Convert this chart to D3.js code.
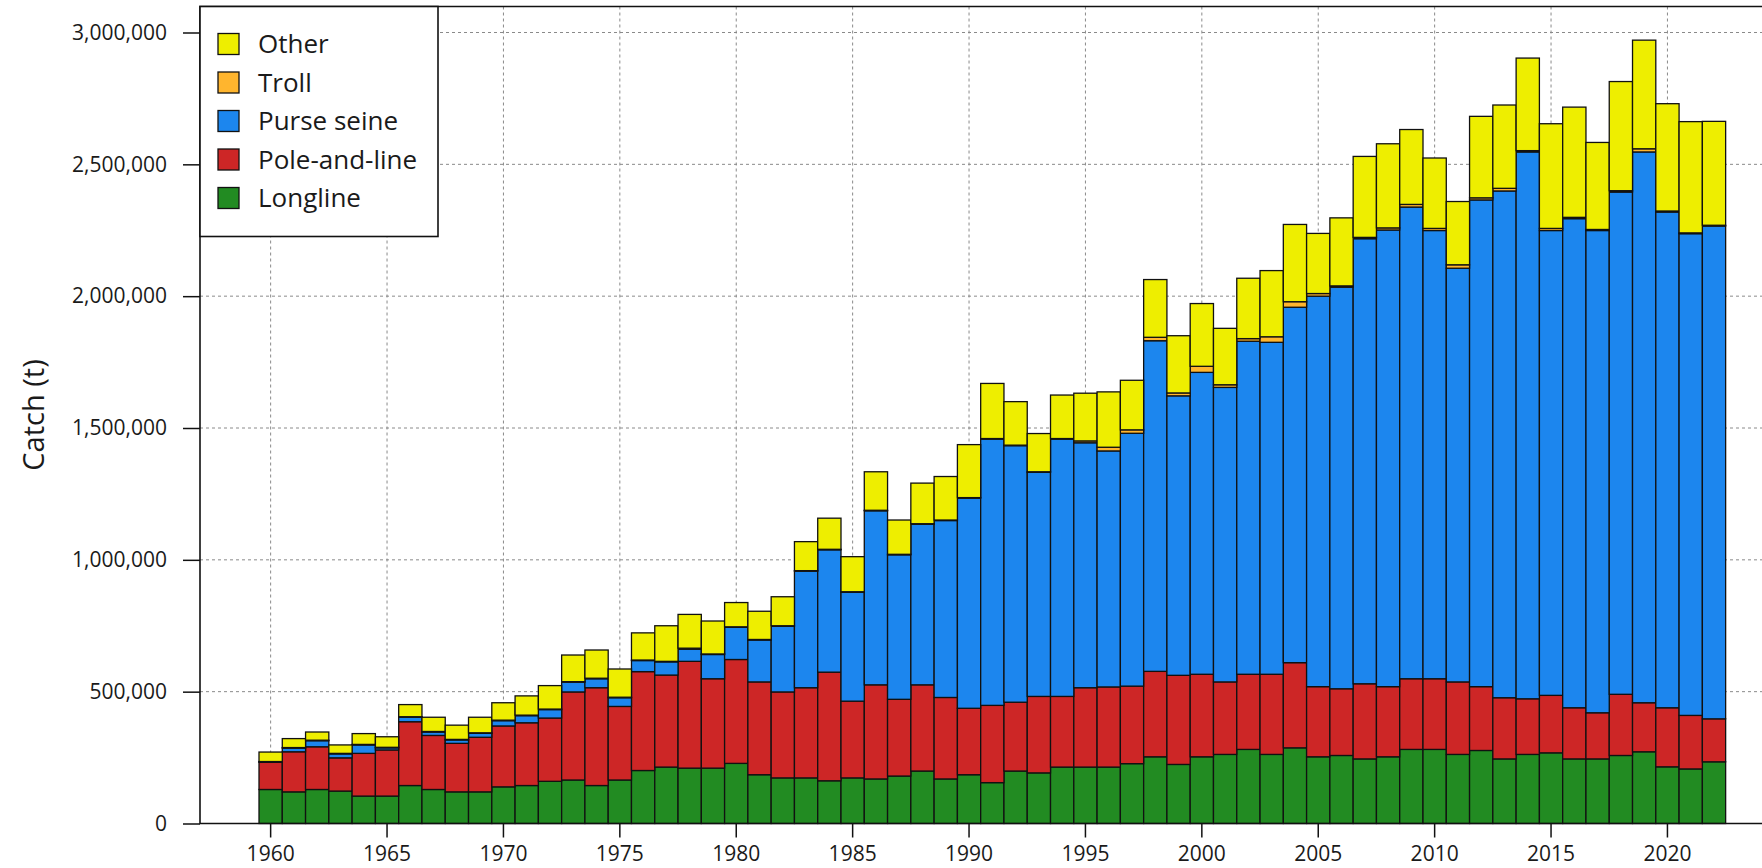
<!DOCTYPE html>
<html>
<head>
<meta charset="utf-8" />
<title>Catch by gear</title>
<style>
body { margin: 0; background: #fff; }
#graph {
    width: 1762px;
    height: 868px;
}
text { font-family: "Open Sans", Lato, sans-serif; fill: #1a1a1a; }
.grid line {
    stroke: #8a8a8a;
    stroke-dasharray: 3 3;
    stroke-width: 1;
}
.bar { stroke: #111; stroke-width: 1.3; }
.axis line { stroke: #111; stroke-width: 1.5; }
</style>
</head>
<body>
<div id="graph"></div>

<script src="https://cdnjs.cloudflare.com/ajax/libs/d3/7.8.5/d3.min.js"></script>
<script>
// catch in thousand tonnes
var years = [1960,1961,1962,1963,1964,1965,1966,1967,1968,1969,
    1970,1971,1972,1973,1974,1975,1976,1977,1978,1979,
    1980,1981,1982,1983,1984,1985,1986,1987,1988,1989,
    1990,1991,1992,1993,1994,1995,1996,1997,1998,1999,
    2000,2001,2002,2003,2004,2005,2006,2007,2008,2009,
    2010,2011,2012,2013,2014,2015,2016,2017,2018,2019,
    2020,2021,2022]

var longline = [129,120,129,123,104,104,144,129,120,120,
    139,144,160,165,144,165,201,214,210,210,
    228,185,173,173,162,173,169,180,199,169,
    185,155,199,192,214,214,214,227,253,224,
    253,262,281,262,287,253,258,245,253,281,
    281,262,277,245,262,268,245,245,258,272,
    215,207,234]

var poleAndLine = [103,152,162,126,162,175,242,205,184,207,
    231,238,240,334,371,279,375,349,405,339,
    394,352,326,342,412,291,357,291,327,309,
    252,293,261,290,268,301,304,294,324,338,
    313,275,285,304,323,266,253,285,266,268,
    268,275,242,232,211,218,194,175,232,186,
    224,203,163]

var purseSeine = [2,14,23,15,32,8,17,13,13,15,
    20,27,32,37,34,33,42,50,46,92,
    122,159,249,442,464,413,660,548,609,671,
    797,1010,973,850,976,929,895,959,1254,1060,
    1145,1117,1263,1259,1348,1481,1523,1688,1732,1789,
    1700,1569,1846,1922,2074,1763,1855,1829,1905,2089,
    1880,1827,1869]

var troll = [1,2,2,2,2,2,2,2,2,2,
    2,2,2,2,2,2,2,2,4,2,
    2,2,2,2,2,2,2,2,2,2,
    2,2,2,2,2,7,14,13,13,11,
    23,10,10,21,21,10,5,5,8,10,
    8,13,8,10,5,8,5,4,5,12,
    4,3,3]

var other = [36,34,31,32,41,40,46,54,54,59,
    66,73,89,101,107,107,103,135,128,125,
    92,107,110,110,118,133,146,130,154,165,
    201,209,165,145,165,181,210,188,219,217,
    238,214,229,251,293,228,258,307,319,284,
    267,240,309,316,351,397,418,330,414,412,
    407,422,394]

var gears = ["Longline", "Pole-and-line", "Purse seine", "Troll", "Other"]
var gearColors = ["#228B22", "#CD2626", "#1C86EE", "#FFB52E", "#EEEE00"]
var yTicks = [0, 500000, 1000000, 1500000, 2000000, 2500000, 3000000]
var xTickYears = [1960,1965,1970,1975,1980,1985,1990,1995,2000,2005,2010,2015,2020]

!(function(){
    "use strict"

    var width, height
    var margin
    var svg = d3.select("#graph").append("svg")
    var gridLayer = svg.append("g").classed("grid", true)
    var chartLayer = svg.append("g").classed("chartLayer", true)
    var axisLayer = svg.append("g").classed("axisLayer", true)
    var legendLayer = svg.append("g").classed("legend", true)

    var xScale = d3.scaleBand()
    var yScale = d3.scaleLinear()
    var color = d3.scaleOrdinal().domain(gears).range(gearColors)

    var series = [longline, poleAndLine, purseSeine, troll, other]
    var data = years.map(function(y, i){
        var row = {year: y}
        gears.forEach(function(g, k){ row[g] = series[k][i] * 1000 })
        return row
    })

    main(data)

    function main(data) {
        setSize()
        drawGrid()
        drawChart(data)
        drawAxis()
        drawLegend()
    }

    function setSize() {
        width = 1762
        height = 868
        margin = {top: 6.5, left: 200, bottom: 44.5, right: -30}

        svg.attr("width", width).attr("height", height)

        xScale.domain(years)
            .range([259, 259 + years.length * 23.28])
            .paddingInner(0).paddingOuter(0)

        yScale.domain([0, 3000000]).range([height - margin.bottom, 32.5])
    }

    function drawGrid() {
        gridLayer.selectAll(".hgrid").data(yTicks.slice(1)).enter()
            .append("line").classed("hgrid", true)
            .attr("x1", margin.left).attr("x2", width - margin.right)
            .attr("y1", function(d){ return yScale(d) })
            .attr("y2", function(d){ return yScale(d) })

        gridLayer.selectAll(".vgrid").data(xTickYears).enter()
            .append("line").classed("vgrid", true)
            .attr("x1", function(d){ return xScale(d) + xScale.bandwidth()/2 })
            .attr("x2", function(d){ return xScale(d) + xScale.bandwidth()/2 })
            .attr("y1", margin.top).attr("y2", height - margin.bottom)
    }

    function drawChart(data) {
        var stacked = d3.stack().keys(gears)(data)

        var layer = chartLayer.selectAll(".layer").data(stacked)
            .enter().append("g").classed("layer", true)
            .attr("fill", function(d){ return color(d.key) })

        layer.selectAll(".bar").data(function(d){ return d })
            .enter().append("rect").classed("bar", true)
            .attr("x", function(d){ return xScale(d.data.year) })
            .attr("width", xScale.bandwidth())
            .attr("y", function(d){ return yScale(d[1]) })
            .attr("height", function(d){ return yScale(d[0]) - yScale(d[1]) })
    }

    function drawAxis() {
        var bottom = height - margin.bottom

        // box: left, top and bottom run off to the right edge
        axisLayer.append("path")
            .attr("d", "M" + (width - margin.right) + "," + margin.top +
                "H" + margin.left + "V" + bottom + "H" + (width - margin.right))
            .attr("fill", "none").attr("stroke", "#111").attr("stroke-width", 1.6)

        var yAxis = d3.axisLeft(yScale)
            .tickValues(yTicks)
            .tickSize(17)
            .tickPadding(16)
            .tickFormat(d3.format(","))

        var gy = axisLayer.append("g")
            .attr("class", "axis y")
            .attr("transform", "translate(" + [margin.left, 0] + ")")
            .call(yAxis)
        gy.select(".domain").remove()
        gy.selectAll("text").style("font-size", "21px").attr("fill", "#1a1a1a")

        var xAxis = d3.axisBottom(xScale)
            .tickValues(xTickYears)
            .tickSize(14)
            .tickPadding(9)

        var gx = axisLayer.append("g")
            .attr("class", "axis x")
            .attr("transform", "translate(" + [0, bottom] + ")")
            .call(xAxis)
        gx.select(".domain").remove()
        gx.selectAll("text").style("font-size", "21px").attr("fill", "#1a1a1a")

        axisLayer.append("text")
            .attr("transform", "translate(" + [44, (margin.top + bottom)/2] + ") rotate(-90)")
            .attr("text-anchor", "middle")
            .style("font-size", "29px")
            .text("Catch (t)")
    }

    function drawLegend() {
        var entries = gears.slice().reverse()

        legendLayer.append("rect")
            .attr("x", margin.left).attr("y", margin.top)
            .attr("width", 238).attr("height", 230)
            .attr("fill", "#fff").attr("stroke", "#111").attr("stroke-width", 1.6)

        var item = legendLayer.selectAll(".item").data(entries).enter()
            .append("g").classed("item", true)
            .attr("transform", function(d, i){ return "translate(" + [218, 44 + i * 38.5] + ")" })

        item.append("rect")
            .attr("x", 0).attr("y", -10.5)
            .attr("width", 21).attr("height", 21)
            .attr("fill", function(d){ return color(d) })
            .attr("stroke", "#111").attr("stroke-width", 1.3)

        item.append("text")
            .attr("x", 40).attr("dy", "0.36em")
            .style("font-size", "26px")
            .text(function(d){ return d })
    }

}());
</script>
</body>
</html>
